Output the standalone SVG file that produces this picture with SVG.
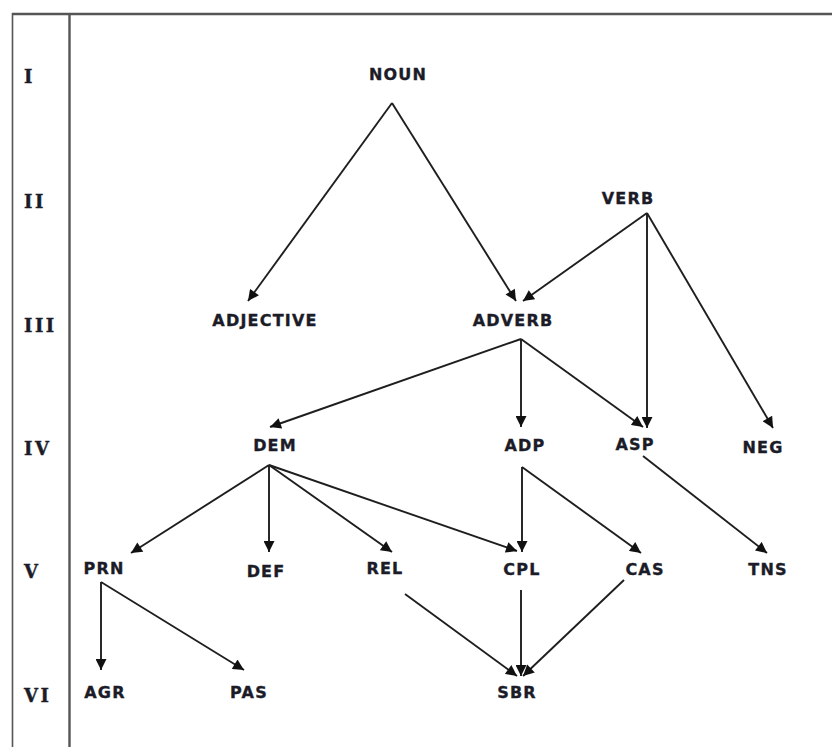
<svg xmlns="http://www.w3.org/2000/svg" width="832" height="747" viewBox="0 0 832 747">
  <style>
    .lvl { font-family: "DejaVu Serif", "Liberation Serif", serif; font-weight: bold; font-size: 18px; fill: #1c1c28; stroke: #1c1c28; stroke-width: 0.4; letter-spacing: 2.5px; }
    .lbl { font-family: "DejaVu Sans", "Liberation Sans", sans-serif; font-weight: bold; font-size: 16px; fill: #1c1c28; stroke: #1c1c28; stroke-width: 0.35; text-anchor: middle; letter-spacing: 1.2px; }
    .edge { stroke: #1e1e1e; stroke-width: 1.9; fill: none; marker-end: url(#arrow); }
    .frame { stroke: #555; fill: none; }
  </style>
  <defs>
    <marker id="arrow" viewBox="0 0 10 10" refX="10" refY="5" markerWidth="12" markerHeight="11" markerUnits="userSpaceOnUse" orient="auto">
      <path d="M0,0 L10,5 L0,10 Z" fill="#111"/>
    </marker>
  </defs>
  <rect width="832" height="747" fill="#fff"/>

  <!-- frame -->
  <g id="frame">
    <line class="frame" x1="12" y1="14" x2="832" y2="14" stroke-width="2.4"/>
    <line class="frame" x1="12.5" y1="13" x2="12.5" y2="747" stroke-width="1.6" stroke="#333"/>
    <line class="frame" x1="69.5" y1="14" x2="69.5" y2="747" stroke-width="2.4" stroke="#666"/>
  </g>

  <!-- level numerals -->
  <g id="levels">
    <text class="lvl" x="24" y="83">I</text>
    <text class="lvl" x="24" y="208">II</text>
    <text class="lvl" x="24" y="332">III</text>
    <text class="lvl" x="24" y="455">IV</text>
    <text class="lvl" x="24" y="578">V</text>
    <text class="lvl" x="24" y="702">VI</text>
  </g>

  <!-- connectors -->
  <g id="connectors">
    <line class="edge" x1="392" y1="103" x2="248" y2="301"/>
    <line class="edge" x1="392" y1="103" x2="516" y2="301"/>
    <line class="edge" x1="647" y1="213" x2="523" y2="301"/>
    <line class="edge" x1="647" y1="213" x2="647" y2="428"/>
    <line class="edge" x1="647" y1="213" x2="773" y2="428"/>
    <line class="edge" x1="521" y1="339" x2="270" y2="427"/>
    <line class="edge" x1="521" y1="339" x2="521" y2="427"/>
    <line class="edge" x1="521" y1="339" x2="643" y2="427"/>
    <line class="edge" x1="269" y1="465" x2="131" y2="553"/>
    <line class="edge" x1="269" y1="465" x2="269" y2="552"/>
    <line class="edge" x1="269" y1="465" x2="392" y2="552"/>
    <line class="edge" x1="269" y1="465" x2="517" y2="551"/>
    <line class="edge" x1="522" y1="467" x2="522" y2="552"/>
    <line class="edge" x1="522" y1="467" x2="641" y2="553"/>
    <line class="edge" x1="643" y1="456" x2="767" y2="553"/>
    <line class="edge" x1="101" y1="582" x2="101" y2="670"/>
    <line class="edge" x1="101" y1="582" x2="244" y2="670"/>
    <line class="edge" x1="405" y1="594" x2="517" y2="676"/>
    <line class="edge" x1="521" y1="590" x2="521" y2="676"/>
    <line class="edge" x1="624" y1="580" x2="523" y2="676"/>
  </g>

  <!-- nodes -->
  <g id="noun"><text class="lbl" x="398" y="80">NOUN</text></g>
  <g id="verb"><text class="lbl" x="628" y="204">VERB</text></g>
  <g id="adjective"><text class="lbl" x="265" y="326">ADJECTIVE</text></g>
  <g id="adverb"><text class="lbl" x="513" y="326">ADVERB</text></g>
  <g id="dem"><text class="lbl" x="275" y="451">DEM</text></g>
  <g id="adp"><text class="lbl" x="525" y="451">ADP</text></g>
  <g id="asp"><text class="lbl" x="635" y="450">ASP</text></g>
  <g id="neg"><text class="lbl" x="763" y="453">NEG</text></g>
  <g id="prn"><text class="lbl" x="104" y="574">PRN</text></g>
  <g id="def"><text class="lbl" x="266" y="577">DEF</text></g>
  <g id="rel"><text class="lbl" x="385" y="574">REL</text></g>
  <g id="cpl"><text class="lbl" x="522" y="575">CPL</text></g>
  <g id="cas"><text class="lbl" x="645" y="575">CAS</text></g>
  <g id="tns"><text class="lbl" x="768" y="575">TNS</text></g>
  <g id="agr"><text class="lbl" x="105" y="698">AGR</text></g>
  <g id="pas"><text class="lbl" x="249" y="698">PAS</text></g>
  <g id="sbr"><text class="lbl" x="517" y="698">SBR</text></g>
</svg>
